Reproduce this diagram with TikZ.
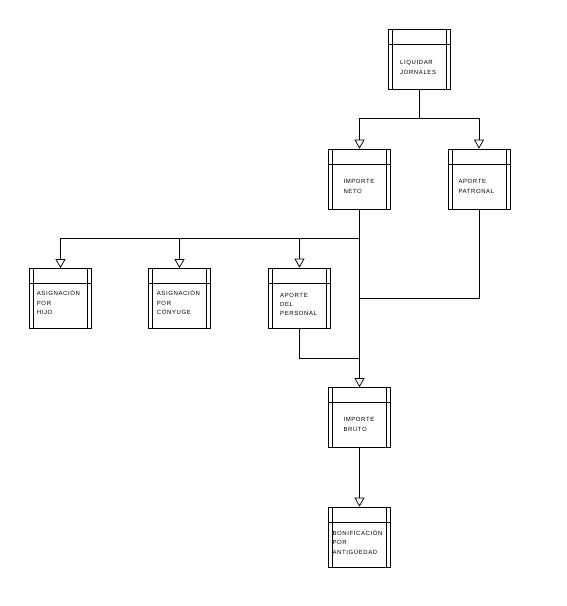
\documentclass[tikz,border=0pt]{standalone}
\usepackage{fontspec}
\newfontfamily\boxfont[LetterSpace=10]{Liberation Sans}
\usetikzlibrary{arrows.meta}
\tikzset{
  proc/.style={draw, line width=0.75pt, minimum width=62pt, minimum height=60pt, inner sep=0pt,
    path picture={
      \draw[line width=0.75pt] ([xshift=4pt]path picture bounding box.north west) -- ([xshift=4pt]path picture bounding box.south west);
      \draw[line width=0.75pt] ([xshift=-4pt]path picture bounding box.north east) -- ([xshift=-4pt]path picture bounding box.south east);
      \draw[line width=0.75pt] ([yshift=-15pt]path picture bounding box.north west) -- ([yshift=-15pt]path picture bounding box.north east);
    }},
  lbl/.style={anchor=base west, inner sep=0pt, font=\boxfont\fontsize{6pt}{7pt}\selectfont},
  conn/.style={line width=0.75pt},
  arr/.style={conn, -{Triangle[open, width=10pt, length=9pt, line width=0.75pt]}}
}
\newcommand\boxlines[5]{%
  \foreach \t [count=\i] in {#5} {\node[lbl] (#1-\i) at (#2, {#3+(\i-1)*#4}) {\t};}}
\begin{document}
\begin{tikzpicture}[x=1pt, y=-1pt]
\useasboundingbox (0,0) rectangle (566,606);
% boxes
\node[proc] (liq) at (419,59.5) {};
\node[proc] (neto) at (359.5,179) {};
\node[proc] (patr) at (479,179) {};
\node[proc] (hijo) at (60.5,298.5) {};
\node[proc] (cony) at (179.5,298.5) {};
\node[proc] (pers) at (299.5,298) {};
\node[proc] (bruto) at (359.5,417.5) {};
\node[proc] (bonif) at (359.5,537) {};
% texts
\boxlines{tliq}{400}{64.7}{9.3}{LIQUIDAR,JORNALES}
\boxlines{tneto}{343.3}{183.7}{9.8}{IMPORTE,NETO}
\boxlines{tpatr}{458.3}{183.2}{10.3}{APORTE,PATRONAL}
\boxlines{thijo}{36.7}{295.7}{9.5}{ASIGNACIÓN,POR,HIJO}
\boxlines{tcony}{156.7}{295.7}{9.5}{ASIGNACIÓN,POR,CÓNYUGE}
\boxlines{tpers}{280}{297.5}{9.1}{APORTE,DEL,PERSONAL}
\boxlines{tbruto}{343.3}{421.7}{10}{IMPORTE,BRUTO}
\boxlines{tbonif}{332.3}{535.7}{9.2}{BONIFICACIÓN,POR,ANTIGÜEDAD}
% junction points
\coordinate (j1) at (359.5,298);
\coordinate (j2) at (359.5,358);
% connectors
\draw[arr] (liq.south) -- ++(0,28.5) -| (neto.north);
\draw[arr] (liq.south) -- ++(0,28.5) -| (patr.north);
\draw[arr] (neto.south) -- ++(0,29) -| (hijo.north);
\draw[arr] (neto.south) -- ++(0,29) -| (cony.north);
\draw[arr] (neto.south) -- ++(0,29) -| (pers.north);
\draw[arr] (neto.south) -- (bruto.north);
\draw[conn] (patr.south) |- (j1);
\draw[conn] (pers.south) |- (j2);
\draw[arr] (bruto.south) -- (bonif.north);
\end{tikzpicture}
\end{document}
